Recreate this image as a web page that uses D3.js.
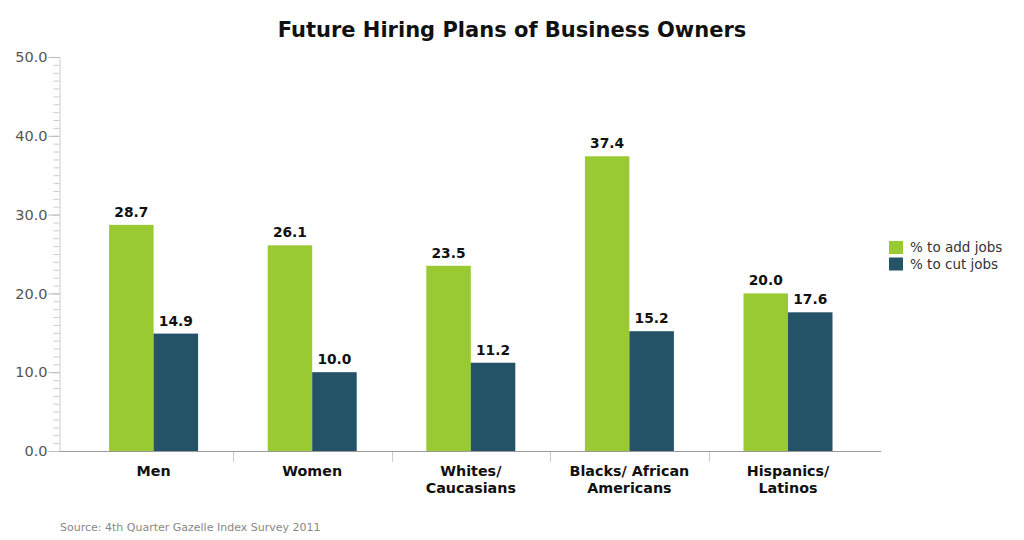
<!DOCTYPE html>
<html>
<head>
<meta charset="utf-8">
<script src="https://cdn.jsdelivr.net/npm/d3@7"></script>
<style>
  html, body { margin: 0; padding: 0; background: #fff; }
  svg { display: block; font-family: "DejaVu Sans", Verdana, sans-serif; }
</style>
</head>
<body>
<div id="chart"></div>
<script>
// Values
const categories = [
  ["Men"],
  ["Women"],
  ["Whites/", "Caucasians"],
  ["Blacks/ African", "Americans"],
  ["Hispanics/", "Latinos"]
]
const seriesNames = ["% to add jobs", "% to cut jobs"]
const addJobs = [28.7, 26.1, 23.5, 37.4, 20.0]
const cutJobs = [14.9, 10.0, 11.2, 15.2, 17.6]
const yTicks = [0, 10, 20, 30, 40, 50]

const colors = ["#9aca32", "#245266"]

const width = 1024
const height = 540

const svg = d3.select("#chart")
  .append("svg")
  .attr("width", width)
  .attr("height", height)

const x0 = d3.scaleBand()
  .domain(d3.range(categories.length))
  .range([74.3, 867.3])

const x1 = d3.scaleBand()
  .domain(d3.range(seriesNames.length))
  .range([0, 89])

const y = d3.scaleLinear()
  .domain([0, 50])
  .range([451, 57])

const groupOffset = (x0.bandwidth() - 89) / 2

// Title
svg.append("text")
  .attr("x", 512)
  .attr("y", 37)
  .attr("text-anchor", "middle")
  .style("font-size", "21px")
  .style("font-weight", "bold")
  .style("fill", "#111")
  .text("Future Hiring Plans of Business Owners")

// Y axis: minor ticks every unit, major every 10
const yAxisMinor = d3.axisLeft(y)
  .tickValues(d3.range(0, 51, 1))
  .tickSize(6)
  .tickFormat("")
svg.append("g")
  .attr("transform", "translate(59.5,0)")
  .call(yAxisMinor)
  .call(g => g.select(".domain").attr("stroke", "#ccc"))
  .call(g => g.selectAll(".tick line").attr("stroke", "#ccc"))

const yAxis = d3.axisLeft(y)
  .tickValues(yTicks)
  .tickSize(11)
  .tickPadding(1)
  .tickFormat(d3.format(".1f"))
svg.append("g")
  .attr("transform", "translate(59.5,0)")
  .call(yAxis)
  .call(g => g.select(".domain").remove())
  .call(g => g.selectAll(".tick line").attr("stroke", "#bbb"))
  .call(g => g.selectAll(".tick text")
    .style("font-size", "14.5px")
    .style("font-family", "\"DejaVu Sans\", Verdana, sans-serif")
    .style("fill", "#555"))

// Bars
const series = [addJobs, cutJobs]
const groups = svg.append("g")
  .selectAll("g")
  .data(categories.map((c, i) => i))
  .join("g")
  .attr("transform", i => `translate(${x0(i) + groupOffset},0)`)

groups.selectAll("rect")
  .data(i => series.map((s, k) => ({ k, v: s[i] })))
  .join("rect")
  .attr("x", d => x1(d.k))
  .attr("y", d => y(d.v))
  .attr("width", x1.bandwidth())
  .attr("height", d => y(0) - y(d.v))
  .attr("fill", d => colors[d.k])

groups.selectAll("text")
  .data(i => series.map((s, k) => ({ k, v: s[i] })))
  .join("text")
  .attr("x", d => x1(d.k) + x1.bandwidth() / 2)
  .attr("y", d => y(d.v) - 8)
  .attr("text-anchor", "middle")
  .style("font-size", "13.8px")
  .style("font-weight", "bold")
  .style("fill", "#111")
  .text(d => d.v.toFixed(1))

// X axis line and category separators
svg.append("line")
  .attr("x1", 59.5).attr("x2", 881)
  .attr("y1", 451.5).attr("y2", 451.5)
  .attr("stroke", "#999")

svg.append("g")
  .selectAll("line")
  .data(d3.range(1, categories.length))
  .join("line")
  .attr("x1", i => Math.round(x0(i)) + 0.5)
  .attr("x2", i => Math.round(x0(i)) + 0.5)
  .attr("y1", 452)
  .attr("y2", 462)
  .attr("stroke", "#ccc")

// Category labels
const catLabels = svg.append("g")
  .selectAll("text")
  .data(categories)
  .join("text")
  .attr("text-anchor", "middle")
  .style("font-size", "14.3px")
  .style("font-weight", "bold")
  .style("fill", "#111")
  .attr("transform", (d, i) => `translate(${x0(i) + x0.bandwidth() / 2},476)`)

catLabels.selectAll("tspan")
  .data(d => d)
  .join("tspan")
  .attr("x", 0)
  .attr("y", (d, j) => j * 16.5)
  .text(d => d)

// Legend
const legend = svg.append("g")
  .attr("transform", "translate(889,241)")

legend.selectAll("rect")
  .data(seriesNames)
  .join("rect")
  .attr("x", 0)
  .attr("y", (d, i) => i * 16.5)
  .attr("width", 14)
  .attr("height", 13)
  .attr("fill", (d, i) => colors[i])

legend.selectAll("text")
  .data(seriesNames)
  .join("text")
  .attr("x", 21)
  .attr("y", (d, i) => i * 16.5 + 11)
  .style("font-size", "13.5px")
  .style("fill", "#333")
  .text(d => d)

// Source note
svg.append("text")
  .attr("x", 60)
  .attr("y", 531)
  .style("font-size", "11px")
  .style("fill", "#888")
  .text("Source: 4th Quarter Gazelle Index Survey 2011")
</script>
</body>
</html>
